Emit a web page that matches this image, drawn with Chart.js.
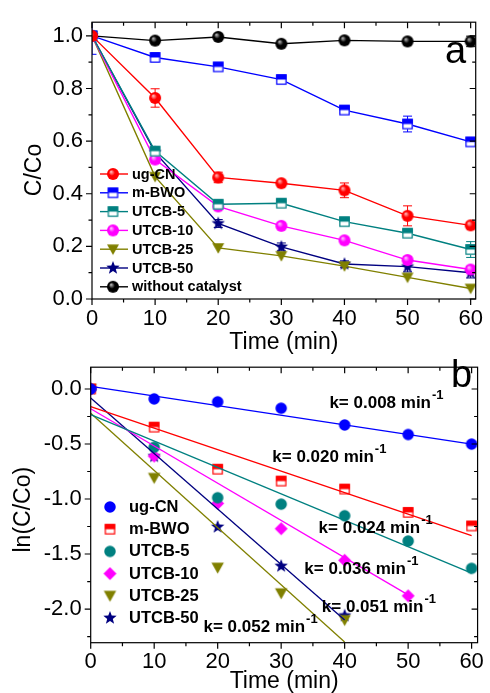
<!DOCTYPE html>
<html>
<head>
<meta charset="utf-8">
<script src="https://cdn.jsdelivr.net/npm/chart.js"></script>
<style>
  html, body { margin:0; padding:0; background:#fff; overflow:hidden; }
  #wrap { position:relative; width:490px; height:693px; }
  .box { position:absolute; left:0; width:490px; }
  #boxA { top:0; height:360px; }
  #boxB { top:345px; height:348px; }
</style>
</head>
<body>
<div id="wrap">
  <div class="box" id="boxA"><canvas id="chartA"></canvas></div>
  <div class="box" id="boxB"><canvas id="chartB"></canvas></div>
</div>
<script>
// 🔹 DATA (panel a : C/Co vs time)
const timeA = [0, 10, 20, 30, 40, 50, 60];
const ugCN_a   = [1.0, 0.764, 0.462, 0.440, 0.413, 0.316, 0.280];
const mBWO_a   = [1.0, 0.918, 0.882, 0.834, 0.718, 0.665, 0.597];
const utcb5_a  = [1.0, 0.562, 0.360, 0.364, 0.294, 0.250, 0.188];
const utcb10_a = [1.0, 0.530, 0.352, 0.278, 0.223, 0.148, 0.112];
const utcb25_a = [1.0, 0.465, 0.194, 0.164, 0.125, 0.082, 0.040];
const utcb50_a = [1.0, 0.557, 0.287, 0.198, 0.133, 0.123, 0.100];
const noCat_a  = [1.0, 0.982, 0.996, 0.970, 0.983, 0.979, 0.979];

// error bars (panel a)
const ugCN_err   = [0.01, 0.035, 0.02, 0.01, 0.028, 0.038, 0.01];
const mBWO_err   = [0.07, 0.015, 0.012, 0.012, 0.015, 0.03, 0.012];
const utcb5_err  = [0.01, 0.012, 0.01, 0.012, 0.012, 0.015, 0.03];
const utcb10_err = [0.01, 0.01, 0.01, 0.01, 0.01, 0.012, 0.012];
const utcb25_err = [0, 0, 0, 0, 0, 0, 0];
const utcb50_err = [0.01, 0.02, 0.015, 0.015, 0.012, 0.02, 0.02];
const noCat_err  = [0.01, 0.01, 0.01, 0.01, 0.01, 0.01, 0.02];

// 🔹 DATA (panel b : ln(C/Co) vs time)
const timeB = [0, 10, 20, 30, 40, 50, 60];
const ugCN_b   = [0, -0.090, -0.117, -0.175, -0.327, -0.414, -0.501];
const mBWO_b   = [0, -0.347, -0.729, -0.837, -0.910, -1.122, -1.245];
const utcb5_b  = [0, -0.530, -0.988, -1.047, -1.152, -1.382, -1.630];
const utcb10_b = [0, -0.610, -1.040, -1.270, -1.557, -1.880];
const utcb25_b = [0, -0.808, -1.624, -1.857, -2.100];
const utcb50_b = [0, -0.612, -1.254, -1.610, -2.060];

// linear fit lines: [x0, y0, x1, y1]
const fit_ugCN   = [0, 0.023, 60, -0.501];
const fit_mBWO   = [0, -0.160, 60, -1.332];
const fit_utcb5  = [0, -0.233, 60, -1.673];
const fit_utcb10 = [0, -0.180, 50, -1.871];
const fit_utcb25 = [0, -0.220, 40, -2.300];
const fit_utcb50 = [0, -0.082, 40, -2.100];

// rate constant labels
const kText = ['k= 0.008 min', 'k= 0.020 min', 'k= 0.024 min', 'k= 0.036 min', 'k= 0.051 min', 'k= 0.052 min'];
const kX = [37.6, 28.6, 35.9, 33.65, 36.4, 17.77];
const kY = [-0.128, -0.624, -1.265, -1.643, -1.988, -2.163];

const namesA = ['ug-CN', 'm-BWO', 'UTCB-5', 'UTCB-10', 'UTCB-25', 'UTCB-50', 'without catalyst'];
const namesB = ['ug-CN', 'm-BWO', 'UTCB-5', 'UTCB-10', 'UTCB-25', 'UTCB-50'];

Chart.defaults.font.family = '"Liberation Sans", Arial, sans-serif';
Chart.defaults.color = '#000';

// 🔹 MARKERS
function makeMarker(kind, color, size, light) {
  const pad = 2;
  const c = document.createElement('canvas');
  c.width = c.height = Math.ceil(size + pad * 2);
  const g = c.getContext('2d');
  const m = c.width / 2, r = size / 2;
  g.fillStyle = color; g.strokeStyle = color; g.lineWidth = 1.2;
  if (kind === 'ball') {
    const grd = g.createRadialGradient(m - r * 0.35, m - r * 0.4, 0, m, m, r);
    grd.addColorStop(0, light); grd.addColorStop(0.5, color); grd.addColorStop(1, color);
    g.fillStyle = grd;
    g.beginPath(); g.arc(m, m, r, 0, Math.PI * 2); g.fill();
  } else if (kind === 'dot') {
    g.beginPath(); g.arc(m, m, r, 0, Math.PI * 2); g.fill();
  } else if (kind === 'half') {
    g.fillStyle = '#fff'; g.fillRect(m - r, m - r, size, size);
    g.fillStyle = color; g.fillRect(m - r, m - r, size, size / 2);
    g.strokeRect(m - r + 0.6, m - r + 0.6, size - 1.2, size - 1.2);
  } else if (kind === 'tri') {
    g.beginPath(); g.moveTo(m - r, m - r * 0.8); g.lineTo(m + r, m - r * 0.8); g.lineTo(m, m + r * 0.95); g.closePath(); g.fill();
  } else if (kind === 'star') {
    g.beginPath();
    for (let i = 0; i < 10; i++) {
      const rr = i % 2 ? r * 0.42 : r;
      const ang = -Math.PI / 2 + i * Math.PI / 5;
      g.lineTo(m + rr * Math.cos(ang), m + rr * Math.sin(ang));
    }
    g.closePath(); g.fill();
  } else if (kind === 'diamond') {
    g.beginPath(); g.moveTo(m, m - r); g.lineTo(m + r, m); g.lineTo(m, m + r); g.lineTo(m - r, m); g.closePath(); g.fill();
  }
  return c;
}

function pts(xs, ys) { return ys.map((v, i) => ({x: xs[i], y: v})); }
function fitPts(f) { return [{x: f[0], y: f[1]}, {x: f[2], y: f[3]}]; }

// 🔹 FRAME + TICKS (minor ticks, top/right mirrored)
const framePlugin = {
  id: 'frame',
  afterDraw(chart, args, o) {
    const {ctx, chartArea: a, scales: {x, y}} = chart;
    ctx.save();
    ctx.strokeStyle = '#000'; ctx.lineWidth = 1.2;
    ctx.strokeRect(a.left, a.top, a.right - a.left, a.bottom - a.top);
    ctx.beginPath();
    for (let k = Math.ceil(x.min / o.xMinor - 1e-6); k * o.xMinor <= x.max + 1e-6; k++) {
      const px = x.getPixelForValue(k * o.xMinor);
      const len = (k % 2 === 0) ? 6 : 3.5;
      ctx.moveTo(px, a.bottom); ctx.lineTo(px, a.bottom + len);
      ctx.moveTo(px, a.top); ctx.lineTo(px, a.top + len);
    }
    for (let k = Math.ceil(y.min / o.yMinor - 1e-6); k * o.yMinor <= y.max + 1e-6; k++) {
      const py = y.getPixelForValue(k * o.yMinor);
      const len = (Math.abs(k) % 2 === 0) ? 6 : 3.5;
      ctx.moveTo(a.left, py); ctx.lineTo(a.left - len, py);
      ctx.moveTo(a.right, py); ctx.lineTo(a.right - len, py);
    }
    ctx.stroke();
    // y title + panel letter
    ctx.fillStyle = '#000';
    ctx.font = '23px "Liberation Sans", Arial, sans-serif';
    ctx.textAlign = 'center'; ctx.textBaseline = 'alphabetic';
    ctx.save();
    ctx.translate(o.yTitleX, o.yTitleY); ctx.rotate(-Math.PI / 2);
    ctx.fillText(o.yTitle, 0, 0);
    ctx.restore();
    ctx.font = '38px "Liberation Sans", Arial, sans-serif';
    ctx.textAlign = 'left';
    ctx.fillText(o.letter, o.letterX, o.letterY);
    ctx.restore();
  }
};

// 🔹 ERROR BARS
const errorPlugin = {
  id: 'errbars',
  beforeDatasetsDraw(chart) {
    const {ctx, chartArea: a, scales: {x, y}} = chart;
    ctx.save();
    ctx.beginPath(); ctx.rect(a.left, a.top, a.right - a.left, a.bottom - a.top); ctx.clip();
    chart.data.datasets.forEach(ds => {
      if (!ds.err) return;
      ctx.strokeStyle = ds.borderColor; ctx.lineWidth = 1;
      ctx.beginPath();
      ds.data.forEach((p, i) => {
        const e = ds.err[i];
        if (!e) return;
        const px = x.getPixelForValue(p.x);
        const y1 = y.getPixelForValue(p.y + e), y2 = y.getPixelForValue(p.y - e);
        ctx.moveTo(px, y1); ctx.lineTo(px, y2);
        ctx.moveTo(px - 4.5, y1); ctx.lineTo(px + 4.5, y1);
        ctx.moveTo(px - 4.5, y2); ctx.lineTo(px + 4.5, y2);
      });
      ctx.stroke();
    });
    ctx.restore();
  }
};

// 🔹 LEGEND (inside plot)
const legendPlugin = {
  id: 'inlegend',
  afterDraw(chart, args, o) {
    const {ctx, chartArea: a} = chart;
    const list = chart.data.datasets.filter(d => d.inLegend);
    ctx.save();
    ctx.font = 'bold ' + o.size + 'px "Liberation Sans", Arial, sans-serif';
    ctx.textBaseline = 'middle'; ctx.textAlign = 'left'; ctx.fillStyle = '#000';
    list.forEach((d, i) => {
      const yy = o.top + i * o.step;
      if (o.line) {
        ctx.strokeStyle = d.borderColor; ctx.lineWidth = 1.4;
        ctx.beginPath(); ctx.moveTo(a.left + 8, yy); ctx.lineTo(a.left + 36, yy); ctx.stroke();
      }
      const img = d.pointStyle;
      ctx.drawImage(img, a.left + o.mx - img.width / 2, yy - img.height / 2);
      ctx.fillText(d.label, a.left + o.tx, yy + 0.5);
    });
    ctx.restore();
  }
};

// 🔹 k LABELS
const kPlugin = {
  id: 'klabels',
  afterDraw(chart) {
    const {ctx, scales: {x, y}} = chart;
    ctx.save();
    ctx.fillStyle = '#000'; ctx.textAlign = 'left'; ctx.textBaseline = 'middle';
    kText.forEach((t, i) => {
      const px = x.getPixelForValue(kX[i]), py = y.getPixelForValue(kY[i]);
      ctx.font = 'bold 17px "Liberation Sans", Arial, sans-serif';
      ctx.fillText(t, px, py);
      const w = ctx.measureText(t).width;
      ctx.font = 'bold 13px "Liberation Sans", Arial, sans-serif';
      ctx.fillText('-1', px + w + 1, py - 8);
    });
    ctx.restore();
  }
};

function axisOptions(o) {
  return {
    x: {
      type: 'linear', min: o.xMin, max: o.xMax,
      grid: {display: false, drawTicks: false}, border: {display: false},
      ticks: {stepSize: 10, includeBounds: false, font: {size: 22}, padding: o.xPad, maxRotation: 0},
      title: {display: true, text: 'Time (min)', font: {size: 23, lineHeight: 1}, padding: {top: 0, bottom: o.titlePad}},
      afterFit: s => { s.height = o.xH; }
    },
    y: {
      type: 'linear', min: o.yMin, max: o.yMax,
      grid: {display: false, drawTicks: false}, border: {display: false},
      ticks: {stepSize: o.yStep, includeBounds: false, font: {size: 22}, padding: 9, callback: v => Number(v).toFixed(1)},
      afterFit: s => { s.width = o.yW; }
    }
  };
}

// 🔹 PANEL A
const specA = [
  [ugCN_a, ugCN_err, '#ff0000', makeMarker('ball', '#ff0000', 12, '#ffd0d0')],
  [mBWO_a, mBWO_err, '#0000ff', makeMarker('half', '#0000ff', 10.5)],
  [utcb5_a, utcb5_err, '#008080', makeMarker('half', '#008080', 10.5)],
  [utcb10_a, utcb10_err, '#ff00ff', makeMarker('ball', '#ff00ff', 12, '#ffd8ff')],
  [utcb25_a, utcb25_err, '#808000', makeMarker('tri', '#808000', 12)],
  [utcb50_a, utcb50_err, '#000080', makeMarker('star', '#000080', 14)],
  [noCat_a, noCat_err, '#000000', makeMarker('ball', '#000000', 12, '#d0d0d0')]
];

new Chart(document.getElementById('chartA'), {
  type: 'line',
  data: {
    datasets: specA.map((s, i) => ({
      label: namesA[i], data: pts(timeA, s[0]), err: s[1], inLegend: true,
      borderColor: s[2], backgroundColor: s[2], borderWidth: 1.4, tension: 0,
      pointStyle: s[3], pointRadius: 6
    }))
  },
  options: {
    responsive: true, maintainAspectRatio: false, animation: false, devicePixelRatio: 1,
    layout: {padding: {top: 12.7, right: 8, left: 0, bottom: 0}},
    scales: axisOptions({xMin: 0, xMax: 60.8, xPad: 7, titlePad: 5.5, xH: 61,
      yMin: 0, yMax: 1.052, yStep: 0.2, yW: 92}),
    plugins: {
      legend: {display: false}, tooltip: {enabled: false},
      frame: {xMinor: 5, yMinor: 0.1, yTitle: 'C/Co', yTitleX: 40.5, yTitleY: 170, letter: 'a', letterX: 445, letterY: 63},
      inlegend: {size: 14.5, top: 174, step: 18.8, line: true, mx: 21, tx: 40}
    }
  },
  plugins: [errorPlugin, framePlugin, legendPlugin]
});

// 🔹 PANEL B
const specB = [
  [ugCN_b, fit_ugCN, '#0000ff', makeMarker('dot', '#0000ff', 11.5)],
  [mBWO_b, fit_mBWO, '#ff0000', makeMarker('half', '#ff0000', 10.5)],
  [utcb5_b, fit_utcb5, '#008080', makeMarker('dot', '#008080', 11.5)],
  [utcb10_b, fit_utcb10, '#ff00ff', makeMarker('diamond', '#ff00ff', 13)],
  [utcb25_b, fit_utcb25, '#808000', makeMarker('tri', '#808000', 12.5)],
  [utcb50_b, fit_utcb50, '#000080', makeMarker('star', '#000080', 14)]
];

const dsB = [];
specB.forEach((s, i) => {
  dsB.push({label: namesB[i], data: fitPts(s[1]), borderColor: s[2], borderWidth: 1.3, pointRadius: 0, tension: 0});
});
specB.forEach((s, i) => {
  dsB.push({label: namesB[i], data: pts(timeB, s[0]), inLegend: true, showLine: false,
    borderColor: s[2], backgroundColor: s[2], pointStyle: s[3], pointRadius: 6});
});

new Chart(document.getElementById('chartB'), {
  type: 'line',
  data: {datasets: dsB},
  options: {
    responsive: true, maintainAspectRatio: false, animation: false, devicePixelRatio: 1,
    layout: {padding: {top: 11.7, right: 9.5, left: 0, bottom: 0}},
    scales: axisOptions({xMin: 0, xMax: 60.94, xPad: 6, titlePad: 0, xH: 50.3,
      yMin: -2.306, yMax: 0.198, yStep: 0.5, yW: 90.7}),
    plugins: {
      legend: {display: false}, tooltip: {enabled: false},
      frame: {xMinor: 5, yMinor: 0.25, yTitle: 'ln(C/Co)', yTitleX: 30, yTitleY: 164.7, letter: 'b', letterX: 451, letterY: 42},
      inlegend: {size: 16.5, top: 162, step: 22.2, line: false, mx: 19.3, tx: 38.3}
    }
  },
  plugins: [framePlugin, legendPlugin, kPlugin]
});
</script>
</body>
</html>
